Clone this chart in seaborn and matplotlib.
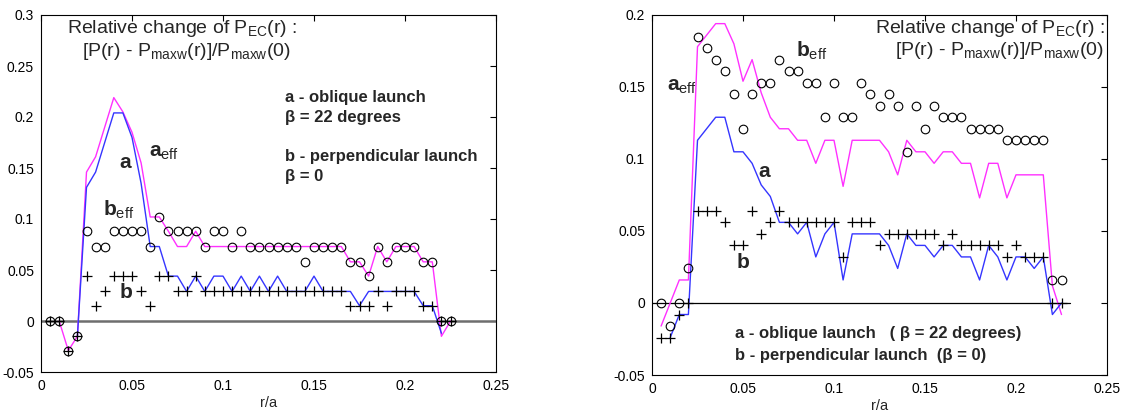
import matplotlib
matplotlib.use("Agg")
import matplotlib.pyplot as plt
import seaborn as sns

# ---------------- data ----------------
R = [0.005, 0.010, 0.015, 0.020, 0.025, 0.030, 0.035, 0.040, 0.045, 0.050,
     0.055, 0.060, 0.065, 0.070, 0.075, 0.080, 0.085, 0.090, 0.095, 0.100,
     0.105, 0.110, 0.115, 0.120, 0.125, 0.130, 0.135, 0.140, 0.145, 0.150,
     0.155, 0.160, 0.165, 0.170, 0.175, 0.180, 0.185, 0.190, 0.195, 0.200,
     0.205, 0.210, 0.215, 0.220, 0.225]

# left panel
L_beff = [0, 0, -0.029, -0.015, 0.088, 0.073, 0.073, 0.088, 0.088, 0.088,
          0.088, 0.073, 0.102, 0.088, 0.088, 0.088, 0.088, 0.073, 0.088, 0.088,
          0.073, 0.088, 0.073, 0.073, 0.073, 0.073, 0.073, 0.073, 0.058, 0.073,
          0.073, 0.073, 0.073, 0.058, 0.058, 0.044, 0.073, 0.058, 0.073, 0.073,
          0.073, 0.058, 0.058, 0, 0]
L_b = [0, 0, -0.029, -0.015, 0.044, 0.015, 0.029, 0.044, 0.044, 0.044,
       0.029, 0.015, 0.044, 0.044, 0.029, 0.029, 0.044, 0.029, 0.029, 0.029,
       0.029, 0.029, 0.029, 0.029, 0.029, 0.029, 0.029, 0.029, 0.029, 0.029,
       0.029, 0.029, 0.029, 0.015, 0.015, 0.015, 0.029, 0.015, 0.029, 0.029,
       0.029, 0.015, 0.015, 0, 0]
L_aeff = [0, -0.029, -0.015, 0.146, 0.161, 0.190, 0.219, 0.205, 0.185,
          0.155, 0.102, 0.102, 0.088, 0.073, 0.073, 0.088, 0.073, 0.073, 0.073,
          0.073, 0.073, 0.073, 0.073, 0.073, 0.073, 0.073, 0.073, 0.073, 0.073,
          0.073, 0.073, 0.073, 0.058, 0.058, 0.044, 0.073, 0.058, 0.073, 0.073,
          0.073, 0.058, 0.058, -0.015, 0]           # r = R[1:]
L_a = [-0.015, 0.131, 0.146, 0.175, 0.204, 0.204, 0.180, 0.135, 0.073, 0.073,
       0.044, 0.044, 0.029, 0.044, 0.029, 0.044, 0.044, 0.029, 0.044, 0.029,
       0.044, 0.029, 0.044, 0.029, 0.029, 0.029, 0.044, 0.029, 0.029, 0.029,
       0.029, 0.015, 0.029, 0.029, 0.029, 0.029, 0.029, 0.029, 0.015, 0.015,
       -0.012]                                      # r = R[3:44]

# right panel
R_beff = [0, -0.016, 0, 0.024, 0.185, 0.177, 0.169, 0.161, 0.145, 0.121,
          0.145, 0.153, 0.153, 0.169, 0.161, 0.161, 0.153, 0.153, 0.129, 0.153,
          0.129, 0.129, 0.153, 0.145, 0.137, 0.145, 0.137, 0.105, 0.137, 0.121,
          0.137, 0.129, 0.129, 0.129, 0.121, 0.121, 0.121, 0.121, 0.113, 0.113,
          0.113, 0.113, 0.113, 0.016, 0.016]
R_b = [-0.024, -0.024, -0.008, 0, 0.064, 0.064, 0.064, 0.056, 0.040, 0.040,
       0.064, 0.048, 0.056, 0.064, 0.056, 0.056, 0.056, 0.056, 0.056, 0.056,
       0.032, 0.056, 0.056, 0.056, 0.040, 0.048, 0.048, 0.048, 0.048, 0.048,
       0.048, 0.040, 0.048, 0.040, 0.040, 0.040, 0.040, 0.040, 0.032, 0.040,
       0.032, 0.032, 0.032, 0, 0]
R_aeff = [-0.016, 0.0, 0.016, 0.016, 0.178, 0.186, 0.194, 0.194, 0.180, 0.154,
          0.169, 0.146, 0.129, 0.121, 0.121, 0.113, 0.113, 0.097, 0.113, 0.113,
          0.081, 0.113, 0.113, 0.113, 0.113, 0.105, 0.089, 0.113, 0.105, 0.105,
          0.097, 0.105, 0.105, 0.097, 0.097, 0.073, 0.097, 0.097, 0.073, 0.089,
          0.089, 0.089, 0.089, 0.012, -0.008]
R_a = [-0.024, -0.008, -0.008, 0.113, 0.121, 0.129, 0.129, 0.105, 0.105, 0.097,
       0.082, 0.074, 0.056, 0.056, 0.048, 0.056, 0.032, 0.048, 0.056, 0.016,
       0.048, 0.048, 0.048, 0.048, 0.040, 0.024, 0.048, 0.040, 0.040, 0.032,
       0.040, 0.040, 0.032, 0.032, 0.016, 0.040, 0.032, 0.016, 0.032, 0.032,
       0.024, 0.032, -0.008, 0.0]                   # r = R[1:]

XT = [0, 0.05, 0.1, 0.15, 0.2, 0.25]
XTL = ["0", "0.05", "0.1", "0.15", "0.2", "0.25"]
YT_L = [-0.05, 0, 0.05, 0.1, 0.15, 0.2, 0.25, 0.3]
YTL_L = ["-0.05", "0", "0.05", "0.1", "0.15", "0.2", "0.25", "0.3"]
YT_R = [-0.05, 0, 0.05, 0.1, 0.15, 0.2]
YTL_R = ["-0.05", "0", "0.05", "0.1", "0.15", "0.2"]

# ---------------- style ----------------
sns.set_theme(style="white")
plt.rcParams["font.family"] = ["Liberation Sans", "DejaVu Sans"]
plt.rcParams["mathtext.fontset"] = "custom"
plt.rcParams["mathtext.rm"] = "Liberation Sans"
plt.rcParams["mathtext.bf"] = "Liberation Sans:bold"
plt.rcParams["mathtext.it"] = "Liberation Sans:italic"

BLUE = "#3535ff"
MAG = "#ff30ff"
W, H = 1130, 411
fig = plt.figure(figsize=(W / 100, H / 100), dpi=100)
axL = fig.add_axes([41 / W, 1 - 372 / H, 455 / W, 357 / H])
axR = fig.add_axes([652 / W, 1 - 375 / H, 455 / W, 360 / H])


def circles(ax, x, y):
    sns.lineplot(x=x, y=y, ax=ax, linestyle="none", marker="o", markersize=6.2,
                 markerfacecolor="none", markeredgecolor="black",
                 markeredgewidth=0.8, color="black", estimator=None, legend=False,
                 zorder=4)


def crosses(ax, x, y):
    sns.lineplot(x=x, y=y, ax=ax, linestyle="none", marker="+", markersize=7.5,
                 markeredgewidth=0.9, markeredgecolor="black", color="black",
                 estimator=None, legend=False, zorder=5)


def line(ax, x, y, c):
    sns.lineplot(x=x, y=y, ax=ax, color=c, linewidth=1.0, estimator=None,
                 sort=False, legend=False, zorder=3)


# ---- left ----
axL.axhline(0, color="#6e6e6e", linewidth=1.8, zorder=1)
line(axL, R[1:], L_aeff, MAG)
line(axL, R[3:44], L_a, BLUE)
circles(axL, R, L_beff)
crosses(axL, R, L_b)

# ---- right ----
axR.plot([0, 0.2295], [0, 0], color="black", linewidth=0.9, zorder=1)
line(axR, R, R_aeff, MAG)
line(axR, R[1:], R_a, BLUE)
circles(axR, R, R_beff)
crosses(axR, R, R_b)

for ax, yt, ytl, ylim in [(axL, YT_L, YTL_L, (-0.05, 0.3)),
                          (axR, YT_R, YTL_R, (-0.05, 0.2))]:
    ax.set_xlim(0, 0.25)
    ax.set_ylim(*ylim)
    ax.set_xticks(XT)
    ax.set_xticklabels(XTL)
    ax.set_yticks(yt)
    ax.set_yticklabels(ytl)
    ax.tick_params(direction="in", top=True, right=True, length=4, width=0.8,
                   labelsize=10, pad=5, colors="black")
    for s in ax.spines.values():
        s.set_color("black")
        s.set_linewidth(0.8)
    ax.set_xlabel("r/a", fontsize=10.5, labelpad=2)
    ax.set_ylabel("")
    ax.set_facecolor("white")

# ---- left annotations ----
tsz = 14
axL.text(0.0775, 0.282, r"Relative change of P$_{\mathrm{EC}}$(r) :", fontsize=tsz,
         ha="center", va="baseline")
axL.text(0.0797, 0.260, r"[P(r) - P$_{\mathrm{maxw}}$(r)]/P$_{\mathrm{maxw}}$(0)",
         fontsize=tsz, ha="center", va="baseline")
asz = 12
axL.text(0.134, 0.2147, "a - oblique launch", fontsize=asz, fontweight="bold", va="baseline")
axL.text(0.134, 0.195, "β = 22 degrees", fontsize=asz, fontweight="bold", va="baseline")
axL.text(0.134, 0.157, "b - perpendicular launch", fontsize=asz, fontweight="bold", va="baseline")
axL.text(0.134, 0.137, "β = 0", fontsize=asz, fontweight="bold", va="baseline")
lsz = 15
axL.text(0.0467, 0.155, r"$\mathbf{a}$", fontsize=lsz, ha="center", va="center")
axL.text(0.0595, 0.165, r"$\mathbf{a}_{\mathrm{eff}}$", fontsize=lsz, ha="left", va="center")
axL.text(0.0340, 0.109, r"$\mathbf{b}_{\mathrm{eff}}$", fontsize=lsz, ha="left", va="center")
axL.text(0.0467, 0.0275, r"$\mathbf{b}$", fontsize=lsz, ha="center", va="center")

# ---- right annotations ----
axR.text(0.2489, 0.1872, r"Relative change of P$_{\mathrm{EC}}$(r) :", fontsize=tsz,
         ha="right", va="baseline")
axR.text(0.2480, 0.172, r"[P(r) - P$_{\mathrm{maxw}}$(r)]/P$_{\mathrm{maxw}}$(0)",
         fontsize=tsz, ha="right", va="baseline")
axR.text(0.0456, -0.024, "a - oblique launch   ( β = 22 degrees)", fontsize=asz,
         fontweight="bold", va="baseline")
axR.text(0.0456, -0.0393, "b - perpendicular launch  (β = 0)", fontsize=asz,
         fontweight="bold", va="baseline")
axR.text(0.0085, 0.1505, r"$\mathbf{a}_{\mathrm{eff}}$", fontsize=lsz, ha="left", va="center")
axR.text(0.0790, 0.1754, r"$\mathbf{b}_{\mathrm{eff}}$", fontsize=lsz, ha="left", va="center")
axR.text(0.0621, 0.0916, r"$\mathbf{a}$", fontsize=lsz, ha="center", va="center")
axR.text(0.0500, 0.0279, r"$\mathbf{b}$", fontsize=lsz, ha="center", va="center")

fig.savefig("out.png", dpi=100, facecolor="white")
